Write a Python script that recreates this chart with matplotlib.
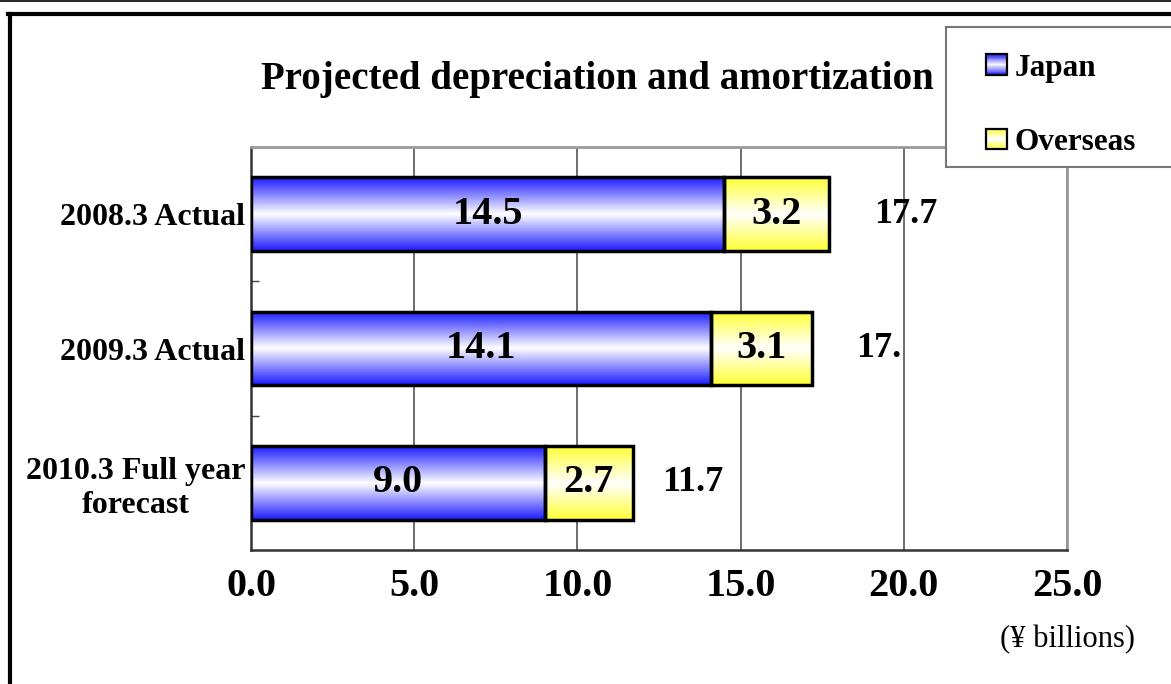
import numpy as np
import matplotlib
matplotlib.use("Agg")
import matplotlib.pyplot as plt
from matplotlib.patches import Rectangle
from matplotlib.lines import Line2D
from matplotlib.legend_handler import HandlerBase
import matplotlib.colors as mcolors

# ---- data ----
categories = ["2008.3 Actual", "2009.3 Actual", "2010.3 Full year\nforecast"]
japan = [14.5, 14.1, 9.0]
overseas = [3.2, 3.1, 2.7]
total_labels = ["17.7", "17.", "11.7"]
series_names = ["Japan", "Overseas"]
x_ticks = [0.0, 5.0, 10.0, 15.0, 20.0, 25.0]
unit_label = "(\u00a5 billions)"
title = "Projected depreciation and amortization"

label_offsets = [1.4, 1.35, 0.9]
edge_colors = {"Japan": "#1a1aff", "Overseas": "#ffff33"}

SERIF = "Liberation Serif"

def gradient_cmap(c):
    return mcolors.LinearSegmentedColormap.from_list(
        "g", [(0.0, c), (0.5, "#ffffff"), (1.0, c)])

fig = plt.figure(figsize=(11.71, 6.84), dpi=100)
ax = fig.add_axes([251/1171, (684-550)/684, 816/1171, 403/684])

y = np.arange(len(categories))[::-1]  # top first
bar_h = 0.55
grad = np.linspace(0, 1, 256).reshape(-1, 1)

def fill_gradient(bars, color):
    cmap = gradient_cmap(color)
    for p in bars:
        x0, y0 = p.get_x(), p.get_y()
        w, h = p.get_width(), p.get_height()
        im = ax.imshow(grad, cmap=cmap, aspect="auto",
                       extent=[x0, x0 + w, y0, y0 + h],
                       origin="lower", zorder=2, interpolation="bilinear")
        im.set_clip_path(p)

b1 = ax.barh(y, japan, height=bar_h, facecolor="none", edgecolor="black",
             linewidth=2.5, zorder=3)
b2 = ax.barh(y, overseas, left=japan, height=bar_h, facecolor="none",
             edgecolor="black", linewidth=2.5, zorder=3)
fill_gradient(b1, edge_colors["Japan"])
fill_gradient(b2, edge_colors["Overseas"])

for yi, j, o, t, off in zip(y, japan, overseas, total_labels, label_offsets):
    ax.text(j / 2, yi, f"{j:.1f}", ha="center", va="center",
            fontsize=29, fontweight="bold", family=SERIF, zorder=4)
    ax.text(j + o / 2, yi, f"{o:.1f}", ha="center", va="center",
            fontsize=29, fontweight="bold", family=SERIF, zorder=4)
    ax.text(j + o + off, yi, t, ha="left", va="center",
            fontsize=26, fontweight="bold", family=SERIF, zorder=4)

ax.set_xlim(0, 25)
ax.set_ylim(-0.5, len(categories) - 0.5)
ax.set_xticks(x_ticks)
ax.set_xticklabels([f"{v:.1f}" for v in x_ticks], fontsize=29,
                   fontweight="bold", family=SERIF)
ax.tick_params(axis="x", length=0, pad=13)
ax.set_yticks(y)
ax.set_yticklabels(categories, fontsize=23, fontweight="bold", family=SERIF)
for lab in ax.get_yticklabels():
    lab.set_multialignment("center")
ax.tick_params(axis="y", length=0, pad=4)
ax.set_yticks([0.5, 1.5], minor=True)
ax.tick_params(axis="y", which="minor", direction="in", length=6,
               width=1, color="#444444")
ax.grid(axis="x", color="#555555", linewidth=1.2, zorder=1)
ax.set_axisbelow(True)
for side in ["top", "right"]:
    ax.spines[side].set_color("#999999")
    ax.spines[side].set_linewidth(2)
for side in ["left", "bottom"]:
    ax.spines[side].set_color("#333333")
    ax.spines[side].set_linewidth(1.8)

ax.text(1.0, -(640 - 550) / 403, unit_label, transform=ax.transAxes,
        ha="center", va="center", fontsize=22, family=SERIF)

fig.text(597/1171, 1 - 79/684, title, ha="center", va="center",
         fontsize=28, fontweight="bold", family=SERIF)

# ---- legend with gradient swatches ----
class GradHandler(HandlerBase):
    def __init__(self, color):
        super().__init__()
        self.color = color
    def create_artists(self, legend, orig_handle, xdescent, ydescent,
                       width, height, fontsize, trans):
        cmap = gradient_cmap(self.color)
        n = 24
        arts = []
        side = height * 0.95
        x0 = -xdescent + width - side
        y0 = -ydescent + (height - side) / 2
        for i in range(n):
            c = cmap((i + 0.5) / n)
            r = Rectangle((x0, y0 + side * i / n), side, side / n,
                          facecolor=c, edgecolor="none", transform=trans)
            arts.append(r)
        arts.append(Rectangle((x0, y0), side, side, facecolor="none",
                              edgecolor="black", linewidth=1.6,
                              transform=trans))
        return arts

# legend box (extends past the right edge)
fig.add_artist(Rectangle((946/1171, 1 - 167/684), 0.3, 140/684,
                         transform=fig.transFigure, facecolor="white",
                         edgecolor="#777777", linewidth=1.5, zorder=2))
leg = fig.legend([b1, b2], series_names,
                 handler_map={b1: GradHandler(edge_colors["Japan"]),
                              b2: GradHandler(edge_colors["Overseas"])},
                 loc="upper left", bbox_to_anchor=(960/1171, 1 - 27/684),
                 prop={"family": SERIF, "weight": "bold", "size": 22.5},
                 frameon=False, borderpad=0.85, labelspacing=1.45,
                 handlelength=0.65, handletextpad=0.25, borderaxespad=0)
leg.set_zorder(3)

# ---- outer frame lines ----
fig.add_artist(Line2D([0, 1], [1 - 1/684, 1 - 1/684], color="black",
                      linewidth=1.2, transform=fig.transFigure))
fig.add_artist(Line2D([8/1171, 1], [1 - 14/684, 1 - 14/684], color="black",
                      linewidth=3, transform=fig.transFigure))
fig.add_artist(Line2D([10/1171, 10/1171], [0, 1 - 14/684], color="black",
                      linewidth=3, transform=fig.transFigure))

fig.savefig("out.png", dpi=100)
